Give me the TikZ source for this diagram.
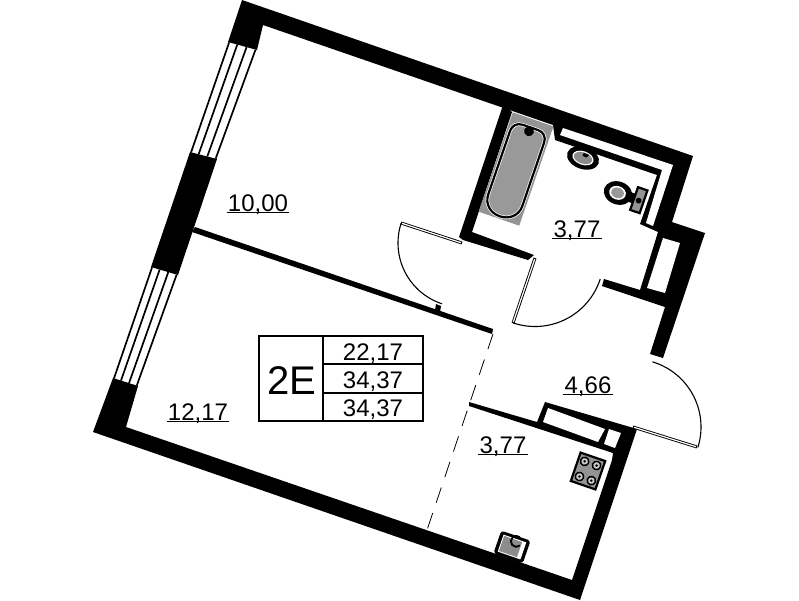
\documentclass[tikz,border=0pt]{standalone}
\usepackage{fontspec}
\setmainfont{Liberation Sans}
\usetikzlibrary{calc}
\tikzset{
  wall/.style={fill=black,draw=none},
  hole/.style={fill=white,draw=none},
  room/.style={font=\fontsize{24}{24}\selectfont,anchor=base,inner sep=0pt},
  tabletxt/.style={font=\fontsize{24}{24}\selectfont,anchor=base,inner sep=0pt},
  rule/.style={line width=1pt},
  swing/.style={line width=1.1pt,smooth,samples=40},
  leafo/.style={line width=3pt,black},
  leafi/.style={line width=1.2pt,white},
  grid/.style={line width=1.6pt},
  fix/.style={fill=black!42,draw=black,line width=2.2pt},
}
\definecolor{ware}{gray}{0.6}
\begin{document}
\begin{tikzpicture}[x=1pt,y=-1pt]
\useasboundingbox (0,0) rectangle (799,600);
\fill[white] (0,0) rectangle (799,600);
% upper shell, right block
\fill[wall] (242,0) -- (693,156) -- (672,222) -- (705,233) -- (663,358) -- (650,354) -- (665,307) -- (602,286) -- (604,279) -- (640,290) -- (658,232) -- (640,224) -- (657,175) -- (555,140) -- (553,125) -- (263,25) -- (257,50) -- (228,42) -- cycle;
% service shaft and closet
\fill[hole] (563,128) -- (673,165) -- (653,226) -- (646,223) -- (662,170) -- (560,135) -- cycle;
\fill[hole] (663,238) -- (680,243) -- (665,293) -- (647,288) -- cycle;
% bathroom walls
\fill[wall] (503,105) -- (512,112) -- (472,232) -- (534,255) -- (528,260) -- (463,240) -- (459,237) -- cycle;
% middle pier and partition
\fill[wall] (190,152) -- (217,159) -- (178,275) -- (151,267) -- cycle;
\fill[wall] (195,227) -- (493,329) -- (492,334) -- (192,232) -- cycle;
\fill[wall] (436,304) -- (441,306) -- (440,312) -- (435,310) -- cycle;
% lower shell and kitchen closets
\fill[wall] (113,378) -- (138,386) -- (126,427) -- (572,580) -- (612,460) -- (613,453) -- (469,406) -- (469,402) -- (537,422) -- (545,402) -- (637,429) -- (580,600) -- (93,432) -- cycle;
\fill[hole] (548,408) -- (605,429) -- (598,442) -- (543,422) -- cycle;
\fill[hole] (609,429) -- (621,433) -- (615,448) -- (604,444) -- cycle;
% windows
\foreach \ax/\ay/\bx/\by/\cx/\cy/\dx/\dy in {228/42/257/50/190/152/217/159,151/267/178/275/113/378/138/386}{
  \coordinate (wa) at (\ax,\ay); \coordinate (wb) at (\bx,\by);
  \coordinate (wc) at (\cx,\cy); \coordinate (wd) at (\dx,\dy);
  \foreach \t in {0.04,0.32,0.64,0.95}{
    \draw[line width=1.7pt] ($(wa)!\t!(wb)$) -- ($(wc)!\t!(wd)$);
  }
}
% doors
\draw[leafo] (462,243) -- (401,223); \draw[leafi] (461,242.7) -- (402,223.3);
\draw[swing,domain=108.2:198.2] plot ({462+64*cos(\x)},{243+64*sin(\x)});
\draw[leafo] (535,258) -- (513,323); \draw[leafi] (534.7,259) -- (513.3,322);
\draw[swing,domain=17.9:108.7] plot ({535+68.5*cos(\x)},{258+68.5*sin(\x)});
\draw[leafo] (633,427) -- (697,447); \draw[leafi] (634,427.3) -- (696,446.7);
\draw[swing,domain=-73.4:17.4] plot ({633+68*cos(\x)},{427+68*sin(\x)});
% dashed zone border
\draw[line width=0.8pt,dash pattern=on 16pt off 11pt] (493,334) -- (427,530);
% bathtub
\begin{scope}[shift={(516,169)},rotate=-19]
  \fill[black!42] (-21.5,-52.5) rectangle (21.5,52.5);
  \draw[white,line width=3.6pt,fill=ware] (-8,-44) -- (8,-44) .. controls (14,-44) and (18,-40) .. (18,-34) -- (18,33) .. controls (18,43) and (10,50) .. (0,50) .. controls (-10,50) and (-18,43) .. (-18,33) -- (-18,-34) .. controls (-18,-40) and (-14,-44) .. (-8,-44) -- cycle;
  \draw[line width=2.2pt] (-8,-44) -- (8,-44) .. controls (14,-44) and (18,-40) .. (18,-34) -- (18,33) .. controls (18,43) and (10,50) .. (0,50) .. controls (-10,50) and (-18,43) .. (-18,33) -- (-18,-34) .. controls (-18,-40) and (-14,-44) .. (-8,-44) -- cycle;
  \fill (0,-40) circle (5);
\end{scope}
% washbasin
\begin{scope}[shift={(583,158)},rotate=-19]
  \fill (0,0) ellipse (16.5 and 11);
  \fill[white] (0,0) ellipse (11 and 6.8);
  \fill[black!45] (0,0) ellipse (9.5 and 5.6);
  \fill (-1,-5) -- (5,-5) -- (3,-1.5) -- (-1,-2) -- cycle;
\end{scope}
% toilet
\begin{scope}[shift={(618,193)},rotate=-19]
  \fill (0,0) ellipse (14.5 and 11.5);
  \fill (10,-5) rectangle (18,5);
  \fill[white] (-0.5,0) ellipse (8.5 and 6.8);
  \fill[black!40] (-0.5,0) ellipse (6.5 and 5.2);
  \draw[fix] (17,-12) rectangle (27,12);
  \fill (22,0.5) circle (3);
\end{scope}
% cooker
\begin{scope}[shift={(588,471)},rotate=-19]
  \draw[fix] (-13,-15) rectangle (13,15);
  \foreach \bx/\by in {-6.3/-8,6.3/-8,-6.3/8,6.3/8}{
    \fill (\bx,\by) circle (5);
    \fill[black!20] (\bx,\by) circle (3.3);
    \fill (\bx,\by) circle (1.4);
  }
\end{scope}
% kitchen sink
\begin{scope}[shift={(512,547)},rotate=-19]
  \fill[rounded corners=3pt] (-15.5,-12) rectangle (15.5,12);
  \fill[white] (-12,-9) rectangle (12,9);
  \fill[black!45] (-11,-8) rectangle (8,8);
  \draw[line width=1.8pt] (7,-4) arc (30:290:5.5);
  \fill[white] (9.5,-8) rectangle (11,8);
\end{scope}
% room labels
\node[room] (r1) at (258,211) {10,00};
\node[room] (r2) at (198,420) {12,17};
\node[room] (r3) at (577,237) {3,77};
\node[room] (r4) at (588,393) {4,66};
\node[room] (r5) at (503,453) {3,77};
\foreach \n in {r1,r2,r3,r4,r5}{
  \draw[rule] ($(\n.base west)+(-1,1)$) -- ($(\n.base east)+(1,1)$);
}
% area table
\draw[grid] (259,336) rectangle (423,421);
\draw[grid] (323,336) -- (323,421);
\draw[grid] (323,364) -- (423,364);
\draw[grid] (323,393) -- (423,393);
\node[font=\fontsize{40}{40}\selectfont,anchor=base,inner sep=0pt] (t0) at (292,394) {2E};
\node[tabletxt] (t1) at (373,360) {22,17};
\node[tabletxt] (t2) at (373,388) {34,37};
\node[tabletxt] (t3) at (373,416) {34,37};
\end{tikzpicture}
\end{document}
